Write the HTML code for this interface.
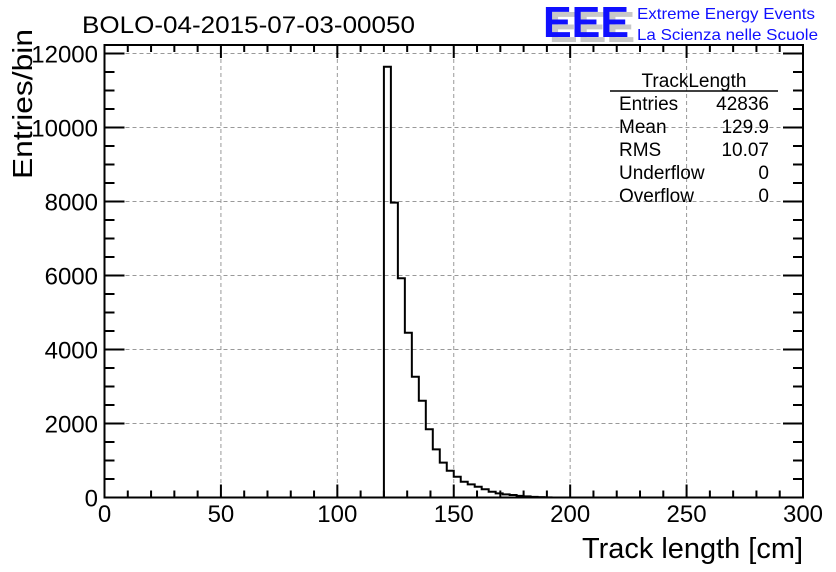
<!DOCTYPE html>
<html><head><meta charset="utf-8"><style>
html,body{margin:0;padding:0;background:#fff;}
svg{display:block;font-family:"Liberation Sans",Arial,sans-serif;}
</style></head><body>
<svg id="s" width="836" height="572" viewBox="0 0 836 572" xmlns="http://www.w3.org/2000/svg">
<rect width="836" height="572" fill="#fff"/>
<g id="grid" stroke="#999" stroke-width="1" stroke-dasharray="4,3"></g>
<g id="ticks" stroke="#000" stroke-width="2"></g>
<path id="hist" fill="none" stroke="#000" stroke-width="2"/>
<rect x="104.5" y="45" width="698.5" height="452.5" fill="none" stroke="#000" stroke-width="2"/>
<g id="labels" font-size="24" fill="#000"></g>
<text x="82" y="33" font-size="24" textLength="333" lengthAdjust="spacingAndGlyphs">BOLO-04-2015-07-03-00050</text>
<text x="803" y="558" font-size="29" text-anchor="end" textLength="221" lengthAdjust="spacingAndGlyphs">Track length [cm]</text>
<text transform="translate(32,179) rotate(-90)" font-size="28" textLength="150" lengthAdjust="spacingAndGlyphs">Entries/bin</text>
<g font-size="44" font-weight="bold">
<text x="549" y="42" fill="#c8c8c8" textLength="86" lengthAdjust="spacingAndGlyphs">EEE</text>
<text x="543" y="37" fill="#1010ff" textLength="86" lengthAdjust="spacingAndGlyphs">EEE</text>
</g>
<text x="637" y="19" font-size="16" fill="#1010ff" textLength="178" lengthAdjust="spacingAndGlyphs">Extreme Energy Events</text>
<text x="637" y="40" font-size="16" fill="#1010ff" textLength="181" lengthAdjust="spacingAndGlyphs">La Scienza nelle Scuole</text>
<g font-size="19" fill="#000">
<text x="694" y="87" text-anchor="middle">TrackLength</text>
<line x1="610" y1="91" x2="778" y2="91" stroke="#000" stroke-width="1.5"/>
<text x="619" y="110">Entries</text><text x="769" y="110" text-anchor="end">42836</text>
<text x="619" y="133">Mean</text><text x="769" y="133" text-anchor="end">129.9</text>
<text x="619" y="156">RMS</text><text x="769" y="156" text-anchor="end">10.07</text>
<text x="619" y="179">Underflow</text><text x="769" y="179" text-anchor="end">0</text>
<text x="619" y="202">Overflow</text><text x="769" y="202" text-anchor="end">0</text>
</g>
</svg>
<script>
var ns="http://www.w3.org/2000/svg";
function X(v){return 104.5+v*698.5/300;}
function Y(v){return 497.5-v*0.037;}
function el(p,t,a,txt){var e=document.createElementNS(ns,t);for(var k in a)e.setAttribute(k,a[k]);if(txt!==undefined)e.textContent=txt;document.getElementById(p).appendChild(e);}
for(var v=50;v<300;v+=50)el("grid","line",{x1:X(v),y1:45,x2:X(v),y2:497.5});
for(var v=2000;v<=12000;v+=2000)el("grid","line",{x1:104.5,y1:Y(v),x2:803,y2:Y(v)});
for(var v=0;v<=300;v+=10){var L=(v%50==0)?13:7;el("ticks","line",{x1:X(v),y1:497.5,x2:X(v),y2:497.5-L});el("ticks","line",{x1:X(v),y1:45,x2:X(v),y2:45+L});}
for(var v=0;v<=12000;v+=500){var yy=Y(v);if(yy<45)continue;var L=(v%2000==0)?20:10;el("ticks","line",{x1:104.5,y1:yy,x2:104.5+L,y2:yy});el("ticks","line",{x1:803,y1:yy,x2:803-L,y2:yy});}
for(var v=0;v<=300;v+=50)el("labels","text",{x:X(v),y:522,"text-anchor":"middle"},String(v));
for(var v=0;v<=12000;v+=2000)el("labels","text",{x:98,y:Y(v)+9,"text-anchor":"end"},String(v));
var h=[11643,7968,5924,4454,3265,2616,1843,1302,941,724,562,427,356,292,222,157,113,86,68,45,30,18,10,5];
var d="M"+X(120)+","+Y(0);
for(var i=0;i<h.length;i++){var x0=X(120+3*i),x1=X(123+3*i);d+=" L"+x0+","+Y(h[i])+" L"+x1+","+Y(h[i]);}
d+=" L"+X(120+3*h.length)+","+Y(0);
document.getElementById("hist").setAttribute("d",d);
</script>
</body></html>
